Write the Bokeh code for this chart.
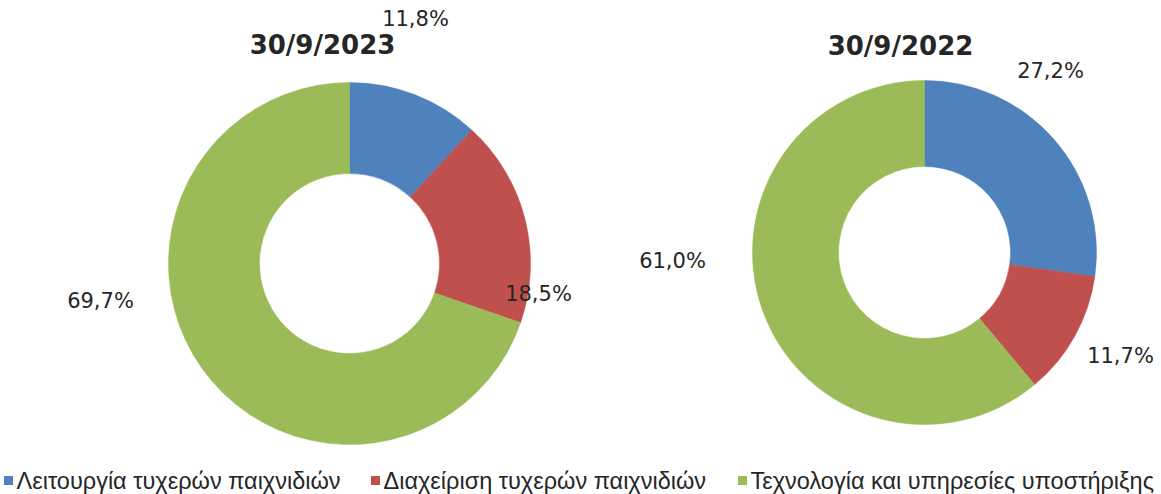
import math
from bokeh.plotting import figure
from bokeh.models import Range1d, ColumnDataSource
from bokeh.core.properties import value
from bokeh.embed import file_html
from bokeh.resources import INLINE

# ---- data ----
categories = ["Λειτουργία τυχερών παιχνιδιών",
              "Διαχείριση τυχερών παιχνιδιών",
              "Τεχνολογία και υπηρεσίες υποστήριξης"]
titles = ["30/9/2023", "30/9/2022"]
values_2023 = [11.8, 18.5, 69.7]
values_2022 = [27.2, 11.7, 61.0]
labels_2023 = ["11,8%", "18,5%", "69,7%"]
labels_2022 = ["27,2%", "11,7%", "61,0%"]
colors = ["#4F81BD", "#C0504D", "#9BBB59"]

# ---- layout (pixels, y measured from top) ----
W, H = 1161, 494
FONT = "DejaVu Sans"
donuts = [
    dict(vals=values_2023, labels=labels_2023, title=titles[0],
         cx=349, cy=263, r_out=181, r_in=90, title_pos=(322, 44),
         label_off=[(66, -245), (189, 30), (-249, 37)]),
    dict(vals=values_2022, labels=labels_2022, title=titles[1],
         cx=924, cy=252, r_out=172, r_in=86, title_pos=(900, 45),
         label_off=[(126, -182), (196, 103), (-252, 8)]),
]
legend_x = [8, 375, 742]
legend_y = 480

p = figure(width=W, height=H, output_backend="svg", toolbar_location=None,
           x_range=Range1d(0, W), y_range=Range1d(0, H), min_border=0)
p.axis.visible = False
p.grid.visible = False
p.outline_line_color = None
p.background_fill_color = "white"
p.border_fill_color = "white"

for d in donuts:
    total = sum(d["vals"])
    cum = 0.0
    starts, ends = [], []
    for v in d["vals"]:
        starts.append(math.pi / 2 - cum / total * 2 * math.pi)
        cum += v
        ends.append(math.pi / 2 - cum / total * 2 * math.pi)
    src = ColumnDataSource(dict(x=[d["cx"]] * 3, y=[H - d["cy"]] * 3,
                                start=starts, end=ends, color=colors))
    p.annular_wedge(x="x", y="y", inner_radius=d["r_in"], outer_radius=d["r_out"],
                    inner_radius_units="screen", outer_radius_units="screen",
                    start_angle="start", end_angle="end", direction="clock",
                    fill_color="color", line_color="color", line_width=0.5,
                    source=src)
    lx = [d["cx"] + o[0] for o in d["label_off"]]
    ly = [H - (d["cy"] + o[1]) for o in d["label_off"]]
    p.text(x=lx, y=ly, text=d["labels"], text_font=value(FONT),
           text_font_size="21px", text_color="#262626",
           text_align="center", text_baseline="middle")
    p.text(x=[d["title_pos"][0]], y=[H - d["title_pos"][1]], text=[d["title"]],
           text_font=value(FONT), text_font_style="bold", text_font_size="26px",
           text_color="#262626", text_align="center", text_baseline="middle")

# legend
p.scatter(x=legend_x, y=[H - legend_y] * 3, marker="square", size=9,
          fill_color=colors, line_color=None)
p.text(x=[x + 8 for x in legend_x], y=[H - legend_y] * 3, text=categories,
       text_font=value("Liberation Sans"), text_font_size="23.5px",
       text_color="#262626", text_align="left", text_baseline="middle")

open("out.html", "w").write(file_html(p, INLINE))
